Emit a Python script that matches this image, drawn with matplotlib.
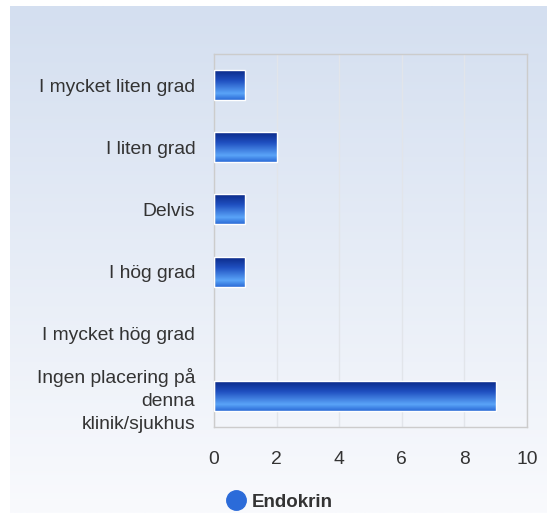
import numpy as np
import matplotlib
matplotlib.use('Agg')
import matplotlib.pyplot as plt
from matplotlib.colors import LinearSegmentedColormap
from matplotlib.lines import Line2D

# data
categories = ['I mycket liten grad', 'I liten grad', 'Delvis', 'I hög grad',
              'I mycket hög grad', 'Ingen placering på\ndenna\nklinik/sjukhus']
values = [1, 2, 1, 1, 0, 9]
series_name = 'Endokrin'
xticks = [0, 2, 4, 6, 8, 10]

plt.rcParams['font.family'] = ['Liberation Sans', 'DejaVu Sans']

W, H = 547, 513
fig = plt.figure(figsize=(W / 100, H / 100), dpi=100)
fig.patch.set_facecolor('white')

# background panel with vertical gradient
bg = fig.add_axes([10 / W, 0, 1 - 10 / W, 1 - 6 / H], zorder=-10)
bg_cmap = LinearSegmentedColormap.from_list('bg', ['#f9fafd', '#d4dff0'])
bg.imshow(np.linspace(0, 1, 256).reshape(-1, 1), aspect='auto', cmap=bg_cmap,
          origin='lower', extent=[0, 1, 0, 1])
bg.set_axis_off()

ax = fig.add_axes([214 / W, 1 - 427 / H, (527 - 214) / W, (427 - 54) / H])
ax.set_facecolor('none')

# row 0 = top of bar
bar_cmap = LinearSegmentedColormap.from_list(
    'bar', [(0.0, '#0b2a88'), (0.35, '#1f4fc0'), (0.78, '#5aa4f8'), (1.0, '#2a6ad6')])

ypos = np.arange(len(categories))
bars = ax.barh(ypos, values, height=0.48, color='none', edgecolor='white',
               linewidth=1.0, zorder=3)
for rect in bars:
    w = rect.get_width()
    if w <= 0:
        rect.set_visible(False)
        continue
    y0 = rect.get_y()
    h = rect.get_height()
    im = ax.imshow(np.linspace(0, 1, 128).reshape(-1, 1), aspect='auto', cmap=bar_cmap,
                   extent=[0, w, y0 + h, y0], origin='upper', zorder=2)
    im.set_clip_path(rect)

ax.set_xlim(0, 10)
ax.set_ylim(len(categories) - 0.5, -0.5)
ax.set_xticks(xticks)
ax.set_yticks(ypos)
ax.set_yticklabels(categories, ha='right', multialignment='right')
for t in ax.get_yticklabels():
    t.set_linespacing(1.45)
ax.tick_params(axis='both', length=0, labelsize=13.9, colors='#333333')
ax.tick_params(axis='x', pad=17)
ax.tick_params(axis='y', pad=13.5)
ax.xaxis.grid(True, color='#e2e5ea', linewidth=1)
ax.set_axisbelow(True)
for s in ax.spines.values():
    s.set_color('#cccccc')
    s.set_linewidth(1)

handle = Line2D([], [], marker='o', linestyle='none', markersize=14,
                markerfacecolor='#2b6bd9', markeredgecolor='#2b6bd9')
leg = fig.legend([handle], [series_name], loc='center', bbox_to_anchor=(275 / W, 1 - 502 / H),
                 frameon=False, handletextpad=-0.2, prop={'weight': 'bold', 'size': 13.5})
for t in leg.get_texts():
    t.set_color('#333333')

fig.savefig('out.png', dpi=100)
